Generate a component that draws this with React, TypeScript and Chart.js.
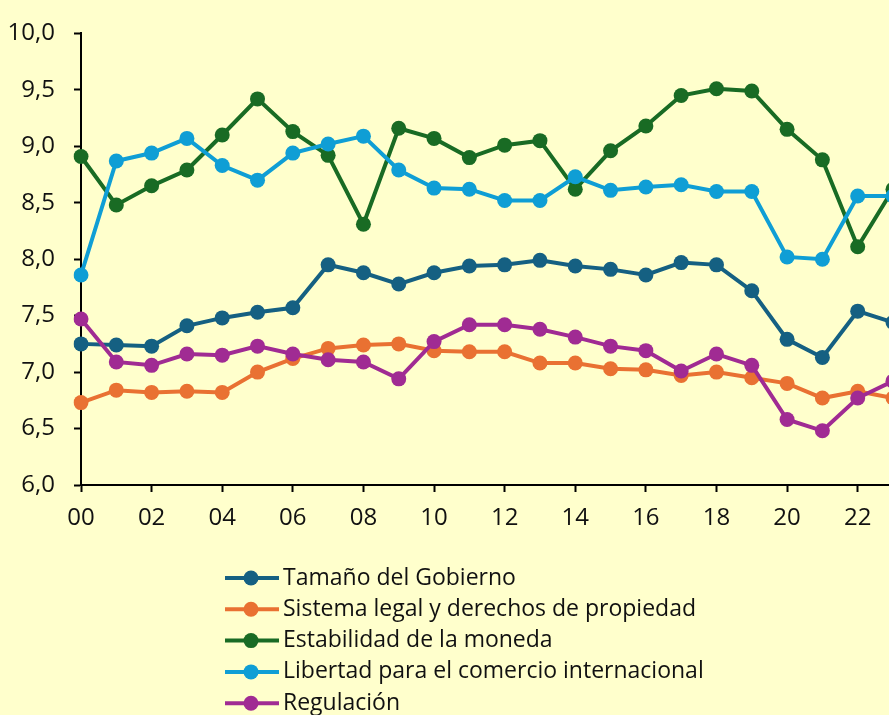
import React, { useEffect, useRef } from "react";
import { Chart, registerables } from "chart.js";

Chart.register(...registerables);

const years = ["00","01","02","03","04","05","06","07","08","09","10","11","12","13","14","15","16","17","18","19","20","21","22","23"];

const tamanoGobierno = [7.25,7.24,7.23,7.41,7.48,7.53,7.57,7.95,7.88,7.78,7.88,7.94,7.95,7.99,7.94,7.91,7.86,7.97,7.95,7.72,7.29,7.13,7.54,7.44];
const sistemaLegal = [6.73,6.84,6.82,6.83,6.82,7.00,7.12,7.21,7.24,7.25,7.19,7.18,7.18,7.08,7.08,7.03,7.02,6.97,7.00,6.95,6.90,6.77,6.83,6.77];
const estabilidad = [8.91,8.48,8.65,8.79,9.10,9.42,9.13,8.92,8.31,9.16,9.07,8.90,9.01,9.05,8.62,8.96,9.18,9.45,9.51,9.49,9.15,8.88,8.11,8.62];
const libertadComercio = [7.86,8.87,8.94,9.07,8.83,8.70,8.94,9.02,9.09,8.79,8.63,8.62,8.52,8.52,8.73,8.61,8.64,8.66,8.60,8.60,8.02,8.00,8.56,8.56];
const regulacion = [7.47,7.09,7.06,7.16,7.15,7.23,7.16,7.11,7.09,6.94,7.27,7.42,7.42,7.38,7.31,7.23,7.19,7.01,7.16,7.06,6.58,6.48,6.77,6.92];

const seriesNames = [
  "Tamaño del Gobierno",
  "Sistema legal y derechos de propiedad",
  "Estabilidad de la moneda",
  "Libertad para el comercio internacional",
  "Regulación",
];
const seriesValues = [tamanoGobierno, sistemaLegal, estabilidad, libertadComercio, regulacion];
const seriesColors = ["#156082", "#E97132", "#196B24", "#0F9ED5", "#A02B93"];

const FONT = "'Open Sans', 'Noto Sans', sans-serif";

export default function App() {
  const ref = useRef<HTMLCanvasElement | null>(null);

  useEffect(() => {
    if (!ref.current) return;

    const legendPlugin = {
      id: "stackedLegend",
      afterDraw(chart: any) {
        const ctx = chart.ctx;
        ctx.save();
        const x0 = 225, x1 = 279, mx = 251, tx = 283;
        const y0 = 578, dy = 31.3;
        chart.data.datasets.forEach((ds: any, i: number) => {
          const y = y0 + i * dy;
          ctx.strokeStyle = ds.borderColor;
          ctx.lineWidth = 4;
          ctx.beginPath();
          ctx.moveTo(x0, y);
          ctx.lineTo(x1, y);
          ctx.stroke();
          ctx.fillStyle = ds.borderColor;
          ctx.beginPath();
          ctx.arc(mx, y, 7.5, 0, Math.PI * 2);
          ctx.fill();
          ctx.fillStyle = "#111";
          ctx.font = `23px ${FONT}`;
          ctx.textBaseline = "middle";
          ctx.textAlign = "left";
          ctx.fillText(ds.label, tx, y);
        });
        ctx.restore();
      },
    };

    const chart = new Chart(ref.current, {
      type: "line",
      data: {
        labels: years,
        datasets: seriesNames.map((name, i) => ({
          label: name,
          data: seriesValues[i],
          borderColor: seriesColors[i],
          backgroundColor: seriesColors[i],
          pointBackgroundColor: seriesColors[i],
          pointBorderWidth: 0,
          pointRadius: 7.5,
          borderWidth: 4,
          tension: 0,
          order: seriesNames.length - i,
        })),
      },
      options: {
        responsive: false,
        animation: false,
        devicePixelRatio: 1,
        layout: { padding: { top: 24, left: 0, right: 7.5, bottom: 190 } },
        plugins: {
          legend: { display: false },
          tooltip: { enabled: false },
        },
        scales: {
          x: {
            type: "category",
            offset: false,
            afterFit: (s: any) => { s.height = 40; },
            border: { display: true, color: "#000", width: 2 },
            grid: {
              drawOnChartArea: false,
              drawTicks: true,
              tickLength: 7,
              tickWidth: 2,
              tickColor: (c: any) => (c.index % 2 === 0 ? "#000" : "rgba(0,0,0,0)"),
            },
            ticks: {
              autoSkip: false,
              maxRotation: 0,
              padding: 12,
              color: "#111",
              font: { family: FONT, size: 24 },
              callback: (_v: any, i: number) => (i % 2 === 0 ? years[i] : ""),
            },
          },
          y: {
            min: 6,
            max: 10,
            afterFit: (s: any) => { s.width = 81; },
            border: { display: true, color: "#000", width: 2 },
            grid: {
              drawOnChartArea: false,
              drawTicks: true,
              tickLength: 7,
              tickWidth: 2,
              tickColor: "#000",
            },
            ticks: {
              stepSize: 0.5,
              padding: 19,
              color: "#111",
              font: { family: FONT, size: 24 },
              callback: (v: any) => Number(v).toFixed(1).replace(".", ","),
            },
          },
        },
      },
      plugins: [legendPlugin],
    });

    return () => chart.destroy();
  }, []);

  return (
    <div
      style={{
        position: "fixed",
        left: 0,
        top: 0,
        width: 889,
        height: 715,
        overflow: "hidden",
        background: "#FFFFCC",
      }}
    >
      <canvas ref={ref} width={905} height={715} style={{ display: "block" }} />
    </div>
  );
}
